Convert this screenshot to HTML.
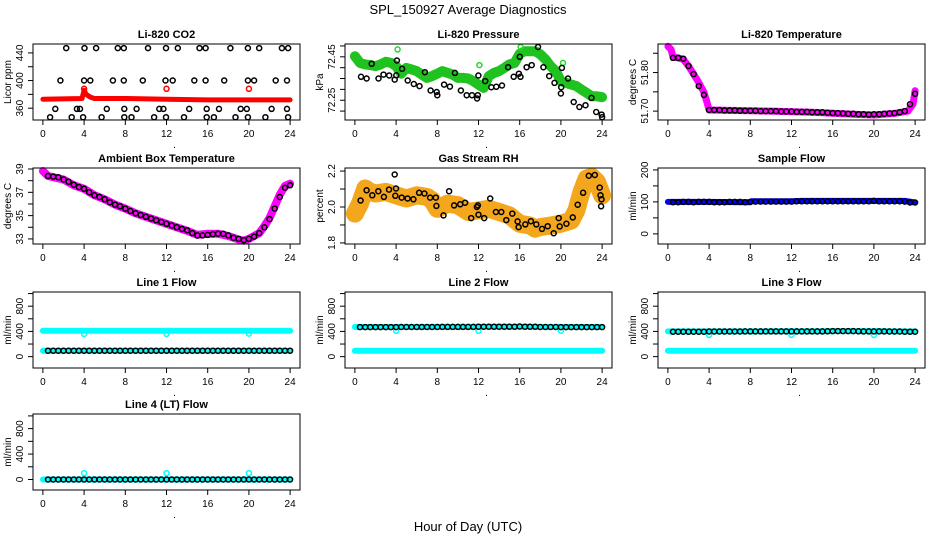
<!DOCTYPE html>
<html><head><meta charset="utf-8"><style>
html,body{margin:0;padding:0;background:#fff;}
svg{display:block;font-family:"Liberation Sans",Arial,sans-serif;}
</style></head><body>
<svg id="fig" width="936" height="540" viewBox="0 0 936 540">
<text x="468" y="14" text-anchor="middle" font-size="13">SPL_150927  Average Diagnostics</text>
<text x="468" y="531" text-anchor="middle" font-size="13">Hour of Day (UTC)</text>
</svg>
<script>
const HALF=[0.5,1,1.5,2,2.5,3,3.5,4,4.5,5,5.5,6,6.5,7,7.5,8,8.5,9,9.5,10,10.5,11,11.5,12,12.5,13,13.5,14,14.5,15,15.5,16,16.5,17,17.5,18,18.5,19,19.5,20,20.5,21,21.5,22,22.5,23,23.5,24];
const HOURLY=[0,1,2,3,4,5,6,7,8,9,10,11,12,13,14,15,16,17,18,19,20,21,22,23,24];
const xTicks=[0,4,8,12,16,20,24];

// CO2
const co2BandH=[0,3.8,4,4.2,4.6,5,8,12,16,20,24];
const co2BandV=[373,374,386,380,376,374,374,373,372,372,372];
const co2RedH=[4,12,20];
const co2RedV=[388,388,388];
const co2BlkH=[2.26,4.04,5.17,7.27,7.85,10.2,11.95,13.1,15.2,15.8,18.2,19.9,21.0,23.2,23.8,
1.7,4.0,4.6,6.8,7.85,9.7,11.9,12.6,14.7,15.8,17.6,19.9,20.5,22.6,23.7,
1.2,3.3,3.6,6.2,7.9,9.1,11.3,11.7,14.2,15.9,17.1,19.2,19.8,22.2,23.7,
0.7,2.8,3.9,5.7,7.9,8.6,10.8,11.95,13.7,15.9,16.6,18.7,19.9,21.6,23.8];
const co2BlkV=[447,447,447,447,447,447,447,447,447,447,447,447,447,447,447,
400,400,400,400,400,400,400,400,400,400,400,400,400,400,400,
359,359,359,359,359,359,359,359,359,359,359,359,359,359,359,
347,347,347,347,347,347,347,347,347,347,347,347,347,347,347];

// Pressure
const presBandH=[0,0.5,1,1.5,2,2.5,3,3.5,4,4.5,5,5.5,6,6.5,7,7.5,8,8.5,9,9.5,10,10.5,11,11.5,12,12.5,13,13.5,14,14.5,15,15.5,16,16.5,17,17.5,18,18.5,19,19.5,20,20.5,21,21.5,22,22.5,23,23.5,24];
const presBandV=[72.453,72.422,72.415,72.412,72.407,72.415,72.427,72.422,72.407,72.372,72.399,72.392,72.384,72.368,72.353,72.361,72.372,72.384,72.376,72.368,72.353,72.353,72.350,72.338,72.322,72.307,72.361,72.376,72.384,72.399,72.415,72.422,72.464,72.476,72.476,72.476,72.461,72.438,72.407,72.384,72.338,72.330,72.322,72.315,72.299,72.284,72.268,72.268,72.264];
const presGrnH=[4.15,12.09,16.1,20.2];
const presGrnV=[72.484,72.412,72.495,72.422];
const presBlkH=[0.59,1.14,1.63,2.29,2.78,3.33,3.86,4.02,4.08,4.58,5.13,5.72,6.27,6.80,7.35,7.94,8.0,8.66,9.22,9.71,10.29,10.85,11.37,11.86,11.93,11.99,12.65,13.24,13.73,14.28,14.87,15.42,15.92,16.08,16.01,16.67,17.16,17.78,18.30,18.86,19.38,20.0,20.03,20.1,20.69,21.24,21.80,22.39,22.97,23.43,23.95,24.0];
const presBlkV=[72.358,72.350,72.418,72.350,72.368,72.364,72.345,72.365,72.433,72.395,72.341,72.325,72.315,72.379,72.295,72.288,72.273,72.322,72.313,72.376,72.295,72.273,72.273,72.258,72.273,72.364,72.338,72.310,72.312,72.318,72.402,72.358,72.372,72.358,72.45,72.402,72.412,72.495,72.402,72.361,72.330,72.281,72.310,72.399,72.350,72.242,72.219,72.227,72.261,72.196,72.184,72.172];

// Li-820 temperature
const tempBandH=[0,0.3,0.5,1,1.5,2,2.5,3,3.5,3.8,4,6,10,14,18,20,22,23.3,23.8,24];
const tempBandV=[51.868,51.860,51.840,51.838,51.834,51.817,51.796,51.774,51.749,51.723,51.703,51.702,51.700,51.697,51.692,51.690,51.694,51.700,51.719,51.753];
const tempBlkV=[51.838,51.838,51.836,51.817,51.796,51.765,51.742,51.703,
51.703,51.703,51.702,51.702,51.702,51.701,51.701,51.701,51.701,51.700,51.700,51.700,51.700,51.699,51.699,51.699,
51.698,51.698,51.698,51.697,51.697,51.697,51.696,51.695,51.695,51.694,51.693,51.693,
51.692,51.692,51.691,51.692,51.692,51.693,51.694,51.695,51.697,51.700,51.718,51.745];

// Ambient
const ambBandH=[0,0.5,1,2,3,4,5,6,7,8,9,10,11,12,13,14,15,16,17,18,19,19.5,20,21,21.5,22,22.5,23,23.5,24];
const ambBandV=[38.83,38.4,38.3,38.1,37.6,37.3,36.75,36.4,35.95,35.6,35.2,34.9,34.6,34.3,34.0,33.7,33.35,33.45,33.45,33.25,32.95,32.85,33.0,33.5,34.1,34.8,35.8,36.8,37.55,37.75];
const ambBlkV=[38.4,38.35,38.3,38.1,37.9,37.65,37.45,37.3,37.0,36.75,36.6,36.4,36.15,35.95,35.8,35.6,35.4,35.2,35.05,34.9,34.75,34.6,34.45,34.3,34.15,34.0,33.85,33.75,33.5,33.3,33.3,33.35,33.4,33.45,33.45,33.3,33.1,33.0,32.9,33.0,33.2,33.5,34.0,34.7,35.6,36.6,37.4,37.6];

// RH
const rhBandH=[0,0.5,1,1.5,2,3,4,5,6,7,7.5,8,9,10,11,12,13,14,15,16,17,17.5,18,19,20,21,21.5,22,22.5,23,23.5,24];
const rhBandV=[1.963,2.019,2.103,2.084,2.075,2.084,2.065,2.047,2.065,2.056,2.037,1.99,2.019,2.01,1.972,1.981,1.99,1.972,1.953,1.907,1.897,1.879,1.888,1.897,1.907,1.925,1.981,2.084,2.159,2.168,2.14,2.065];
const rhBlkH=[0.55,1.14,1.69,2.27,2.82,3.31,3.86,3.92,3.99,4.54,5.12,5.68,6.23,6.75,7.30,7.85,7.91,8.60,9.15,9.63,10.22,10.70,11.29,11.84,11.94,12.0,12.55,13.14,13.69,14.21,14.70,15.28,15.80,15.89,16.54,17.09,17.61,18.16,18.72,19.30,19.79,19.88,20.53,21.15,21.63,22.15,22.71,23.29,23.77,23.84,23.94,23.90];
const rhBlkV=[2.036,2.093,2.065,2.088,2.056,2.097,2.181,2.062,2.103,2.052,2.047,2.043,2.079,2.075,2.052,2.052,2.006,1.953,2.088,2.009,2.015,2.024,1.938,2.0,2.009,1.957,1.938,2.047,1.972,1.972,1.927,1.963,1.920,1.888,1.903,1.921,1.903,1.878,1.893,1.854,1.938,1.892,1.907,1.942,2.013,2.079,2.174,2.178,2.108,2.065,2.043,2.004];

// Sample flow
const sampBandH=[0,4,8,8.1,12,13,16,20,23,24];
const sampBandV=[100,100,99,102,102,103,103,103,103,98];
const sampBlkV=[99,99,100,100,99,100,100,100,99,99,99,100,100,100,99,100,101,101,101,101,101,101,101,101,102,102,102,102,102,102,102,102,102,102,102,102,102,102,102,103,102,102,102,102,102,101,98,98];

// Line flows
const l1Hi=[410,410,410,410,410,410,410,412,412,412,412,412,412,412,412,412,412,412,412,410,410,410,410,410,410];
const l1Lo=[95,95,95,95,95,95,95,95,95,95,95,95,95,95,95,95,95,95,95,95,95,95,95,95,95];
const l1Blk=[95,95,95,95,95,95,95,95,95,95,95,95,95,95,95,95,95,95,95,95,95,95,95,95,95,95,95,95,95,95,95,95,95,95,95,95,95,95,95,95,95,95,95,95,95,95,95,95];
const l1DipH=[4,12,20];
const l1DipV=[360,360,365];
const l2Hi=[470,470,470,470,470,470,470,470,472,472,472,472,475,475,475,475,475,475,470,470,470,470,470,470,470];
const l2Lo=[95,95,95,95,95,95,95,95,95,95,95,95,95,95,95,95,95,95,95,95,95,95,95,95,95];
const l2Blk=[468,468,468,468,468,468,468,468,470,470,470,470,470,470,470,470,472,472,472,472,472,472,472,475,475,475,475,475,475,475,475,478,475,475,475,470,470,470,470,468,468,468,468,468,468,468,468,468];
const l2DipH=[4,12,20];
const l2DipV=[410,410,410];
const l3Hi=[400,400,400,400,400,400,400,400,400,400,402,402,402,402,402,402,405,405,405,405,405,405,400,400,400];
const l3Lo=[95,95,95,95,95,95,95,95,95,95,95,95,95,95,95,95,95,95,95,95,95,95,95,95,95];
const l3Blk=[395,395,395,395,395,395,395,398,398,398,398,398,398,398,400,400,400,400,400,400,400,400,400,400,400,400,400,400,400,400,402,405,405,405,405,405,402,400,400,400,400,400,398,398,398,395,395,395];
const l3DipH=[4,12,20];
const l3DipV=[345,345,345];
const l4Band=[0,0,0,0,0,0,0,0,0,0,0,0,0,0,0,0,0,0,0,0,0,0,0,0,0];
const l4Blk=[0,0,0,0,0,0,0,0,0,0,0,0,0,0,0,0,0,0,0,0,0,0,0,0,0,0,0,0,0,0,0,0,0,0,0,0,0,0,0,0,0,0,0,0,0,0,0,0];
const l4SpikeH=[4,12,20];
const l4SpikeV=[100,100,100];

const flowTicks=[0,200,400,600,800,1000];
const flowLabels=[0,400,800];

const NS='http://www.w3.org/2000/svg';
const svg=document.getElementById('fig');
function mk(tag,attrs,parent){const e=document.createElementNS(NS,tag);for(const k in attrs)e.setAttribute(k,attrs[k]);(parent||svg).appendChild(e);return e;}

const COLS=[33,345,658], W=267, ROWS=[44,168,292,414], H=76;

function panel(p){
  const x0=COLS[p.c], y0=ROWS[p.r];
  const g=mk('g',{});
  
  
  const xs=h=>x0+(h+0.96)/25.92*W;
  const ys=v=>y0+H-(v-p.yd[0])/(p.yd[1]-p.yd[0])*H;
  p.series.forEach(s=>{
    if(s.kind==='band'){
      const pts=s.h.map((h,i)=>xs(h).toFixed(1)+','+ys(s.v[i]).toFixed(1)).join(' ');
      const pl=mk('polyline',{points:pts,fill:'none',stroke:s.col,'stroke-width':s.w,'stroke-linejoin':'round','stroke-linecap':'round'},g);
      
      
    } else {
      s.h.forEach((h,i)=>{
        const c=mk('circle',{cx:xs(h).toFixed(1),cy:ys(s.v[i]).toFixed(1),r:2.5,fill:'none',stroke:s.col,'stroke-width':1.5},g);
        
        
      });
    }
  });
  const b=mk('rect',{x:x0,y:y0,width:W,height:H,fill:'none',stroke:'#000','stroke-width':1},g);
  
  
  xTicks.forEach(t=>{
    const X=xs(t);
    const l=mk('line',{x1:X,x2:X,y1:y0+H,y2:y0+H+5,stroke:'#000'},g);
    
    
    const tx=mk('text',{x:X,y:y0+H+17,'text-anchor':'middle','font-size':10},g);
    tx.textContent=t;
    
    
  });
  const dot=mk('text',{x:x0+W/2+8,y:y0+H+28,'text-anchor':'middle','font-size':10},g);
  dot.textContent='.';
  
  
  p.yt.forEach(t=>{
    const Y=ys(t);
    const l=mk('line',{x1:x0-5,x2:x0,y1:Y,y2:Y,stroke:'#000'},g);
    
    
  });
  p.yl.forEach(t=>{
    const Y=ys(t);
    const tx=mk('text',{x:0,y:0,'text-anchor':'middle','font-size':10,transform:`translate(${x0-10},${Y}) rotate(-90)`},g);
    tx.textContent=p.fmt?t.toFixed(p.fmt):t;
    
    
  });
  const yt=mk('text',{x:0,y:0,'text-anchor':'middle','font-size':10,transform:`translate(${x0-22},${y0+H/2}) rotate(-90)`},g);
  yt.textContent=p.ylab;
  
  
  const ti=mk('text',{x:x0+W/2,y:y0-6,'text-anchor':'middle','font-size':11,'font-weight':'bold'},g);
  ti.textContent=p.title;
  
  
}

panel({name:'co2',r:0,c:0,yd:[342.9,452.9],yt:[360,380,400,420,440],yl:[360,400,440],title:'Li-820 CO2',ylab:'Licor ppm',series:[
 {kind:'pts',h:co2BlkH,v:co2BlkV,col:'#000'},
 {kind:'band',h:co2BandH,v:co2BandV,col:'#ff0000',w:5},
 {kind:'pts',h:co2RedH,v:co2RedV,col:'#ff0000'}]});
panel({name:'pressure',r:0,c:1,yd:[72.159,72.509],yt:[72.2,72.25,72.3,72.35,72.4,72.45,72.5],yl:[72.25,72.45],fmt:2,title:'Li-820 Pressure',ylab:'kPa',series:[
 {kind:'band',h:presBandH,v:presBandV,col:'#1fc21f',w:10},
 {kind:'pts',h:presGrnH,v:presGrnV,col:'#22dd22'},
 {kind:'pts',h:presBlkH,v:presBlkV,col:'#000'}]});
panel({name:'li820-temperature',r:0,c:2,yd:[51.677,51.874],yt:[51.70,51.75,51.80,51.85],yl:[51.70,51.80],fmt:2,title:'Li-820 Temperature',ylab:'degrees C',series:[
 {kind:'band',h:tempBandH,v:tempBandV,col:'#ff00ff',w:7},
 {kind:'pts',h:HALF,v:tempBlkV,col:'#000'}]});
panel({name:'ambient-temperature',r:1,c:0,yd:[32.565,39.087],yt:[33,34,35,36,37,38,39],yl:[33,35,37,39],title:'Ambient Box Temperature',ylab:'degrees C',series:[
 {kind:'band',h:ambBandH,v:ambBandV,col:'#ff00ff',w:8},
 {kind:'pts',h:HALF,v:ambBlkV,col:'#000'}]});
panel({name:'rh',r:1,c:1,yd:[1.794,2.217],yt:[1.8,1.9,2.0,2.1,2.2],yl:[1.8,2.0,2.2],fmt:1,title:'Gas Stream RH',ylab:'percent',series:[
 {kind:'band',h:rhBandH,v:rhBandV,col:'#f4a61c',w:18},
 {kind:'pts',h:rhBlkH,v:rhBlkV,col:'#000'}]});
panel({name:'sample-flow',r:1,c:2,yd:[-31.7,206],yt:[0,50,100,150,200],yl:[0,100,200],title:'Sample Flow',ylab:'ml/min',series:[
 {kind:'band',h:sampBandH,v:sampBandV,col:'#0000ff',w:6},
 {kind:'pts',h:HALF,v:sampBlkV,col:'#000'}]});
panel({name:'line1-flow',r:2,c:0,yd:[-180,1025],yt:flowTicks,yl:flowLabels,title:'Line 1 Flow',ylab:'ml/min',series:[
 {kind:'band',h:HOURLY,v:l1Hi,col:'#00ffff',w:6},
 {kind:'band',h:HOURLY,v:l1Lo,col:'#00ffff',w:6},
 {kind:'pts',h:l1DipH,v:l1DipV,col:'#00ffff'},
 {kind:'pts',h:HALF,v:l1Blk,col:'#000'}]});
panel({name:'line2-flow',r:2,c:1,yd:[-180,1025],yt:flowTicks,yl:flowLabels,title:'Line 2 Flow',ylab:'ml/min',series:[
 {kind:'band',h:HOURLY,v:l2Hi,col:'#00ffff',w:6},
 {kind:'band',h:HOURLY,v:l2Lo,col:'#00ffff',w:6},
 {kind:'pts',h:l2DipH,v:l2DipV,col:'#00ffff'},
 {kind:'pts',h:HALF,v:l2Blk,col:'#000'}]});
panel({name:'line3-flow',r:2,c:2,yd:[-180,1025],yt:flowTicks,yl:flowLabels,title:'Line 3 Flow',ylab:'ml/min',series:[
 {kind:'band',h:HOURLY,v:l3Hi,col:'#00ffff',w:6},
 {kind:'band',h:HOURLY,v:l3Lo,col:'#00ffff',w:6},
 {kind:'pts',h:l3DipH,v:l3DipV,col:'#00ffff'},
 {kind:'pts',h:HALF,v:l3Blk,col:'#000'}]});
panel({name:'line4-flow',r:3,c:0,yd:[-165,1030],yt:flowTicks,yl:flowLabels,title:'Line 4 (LT) Flow',ylab:'ml/min',series:[
 {kind:'band',h:HOURLY,v:l4Band,col:'#00ffff',w:6},
 {kind:'pts',h:l4SpikeH,v:l4SpikeV,col:'#00ffff'},
 {kind:'pts',h:HALF,v:l4Blk,col:'#000'}]});
</script>
</body></html>
